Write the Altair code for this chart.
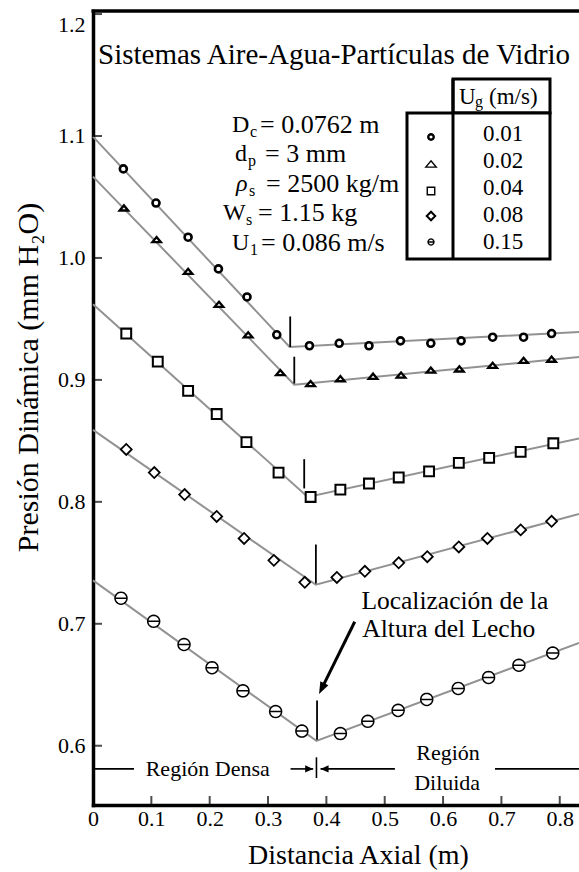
import math

import altair as alt
import pandas as pd

FONT = "Liberation Serif, Times New Roman, Times, serif"

# plot-area size and offset (pixels)
W, H = 486, 794
PAD_L, PAD_T = 93, 11

X_MAX = 0.833
Y_MIN, Y_MAX = 0.5514, 1.2025

# superficial gas velocity of each run (m/s)
ug_labels = ["0.01", "0.02", "0.04", "0.08", "0.15"]

# dynamic pressure readings along the column, one list per run
x_001 = [0.052, 0.108, 0.163, 0.215, 0.264, 0.315, 0.371, 0.422, 0.473, 0.527, 0.579, 0.631, 0.685, 0.738, 0.786]
y_001 = [1.073, 1.045, 1.017, 0.991, 0.968, 0.937, 0.928, 0.930, 0.928, 0.932, 0.930, 0.932, 0.935, 0.935, 0.938]

x_002 = [0.053, 0.109, 0.163, 0.216, 0.266, 0.321, 0.373, 0.424, 0.480, 0.528, 0.579, 0.628, 0.685, 0.738, 0.786]
y_002 = [1.041, 1.015, 0.989, 0.962, 0.937, 0.906, 0.897, 0.901, 0.903, 0.904, 0.908, 0.909, 0.912, 0.916, 0.917]

x_004 = [0.057, 0.111, 0.163, 0.212, 0.263, 0.318, 0.373, 0.424, 0.473, 0.524, 0.576, 0.627, 0.679, 0.733, 0.789]
y_004 = [0.938, 0.915, 0.891, 0.872, 0.849, 0.824, 0.804, 0.810, 0.815, 0.820, 0.825, 0.832, 0.836, 0.841, 0.848]

x_008 = [0.057, 0.105, 0.157, 0.212, 0.259, 0.310, 0.363, 0.418, 0.466, 0.524, 0.573, 0.627, 0.676, 0.733, 0.786]
y_008 = [0.843, 0.824, 0.806, 0.788, 0.770, 0.752, 0.734, 0.738, 0.743, 0.750, 0.755, 0.763, 0.770, 0.777, 0.784]

x_015 = [0.048, 0.104, 0.156, 0.204, 0.257, 0.313, 0.358, 0.424, 0.471, 0.523, 0.572, 0.626, 0.678, 0.730, 0.788]
y_015 = [0.721, 0.702, 0.683, 0.664, 0.645, 0.628, 0.612, 0.610, 0.620, 0.629, 0.638, 0.647, 0.656, 0.666, 0.676]

series_x = [x_001, x_002, x_004, x_008, x_015]
series_y = [y_001, y_002, y_004, y_008, y_015]

# two-segment fits: dense region down to the bed height, dilute region beyond
bed_x = [0.337, 0.345, 0.368, 0.382, 0.383]
fit_y_start = [1.0995, 1.0667, 0.962, 0.859, 0.7356]
fit_y_bed = [0.927, 0.896, 0.804, 0.732, 0.604]
fit_y_end = [0.9393, 0.9187, 0.852, 0.790, 0.6843]

# short vertical bars flagging the bed height of each run
flag_x = [0.338, 0.345, 0.362, 0.382, 0.384]
flag_lo = [0.927, 0.897, 0.811, 0.733, 0.605]
flag_hi = [0.952, 0.919, 0.835, 0.765, 0.637]

y_ticks = [0.6, 0.7, 0.8, 0.9, 1.0, 1.1, 1.2]
x_ticks = [0.0, 0.1, 0.2, 0.3, 0.4, 0.5, 0.6, 0.7, 0.8]

# ---------------------------------------------------------------- tables
points = pd.DataFrame(
    [{"x": xv, "y": yv, "ug": lab}
     for lab, xs, ys in zip(ug_labels, series_x, series_y)
     for xv, yv in zip(xs, ys)]
)

fit_rows = []
for lab, y0, xb, yb, y1 in zip(ug_labels, fit_y_start, bed_x, fit_y_bed, fit_y_end):
    for k, (xv, yv) in enumerate([(0.0, y0), (xb, yb), (X_MAX, y1)]):
        fit_rows.append({"x": xv, "y": yv, "ug": lab, "k": k})
fits = pd.DataFrame(fit_rows)

flags = pd.DataFrame({"x": flag_x, "y": flag_lo, "y2": flag_hi})

one = pd.DataFrame({"_": [0]})

# ---------------------------------------------------------------- symbols and scales
x_scale = alt.Scale(domain=[0, X_MAX], nice=False, zero=False)
y_scale = alt.Scale(domain=[Y_MIN, Y_MAX], nice=False, zero=False)

TRIANGLE = "M -1 0.6 L 0 -0.6 L 1 0.6 Z"
_ring = [(math.cos(2 * math.pi * i / 24), math.sin(2 * math.pi * i / 24)) for i in range(24)]
CIRCLE_BAR = "M " + " L ".join(f"{cx:.3f} {cy:.3f}" for cx, cy in _ring) + " Z M -1 0 L 1 0"
shape_scale = alt.Scale(domain=ug_labels, range=["circle", TRIANGLE, "square", "diamond", CIRCLE_BAR])

x_axis = alt.Axis(
    values=x_ticks, ticks=False, tickSize=0, grid=False,
    labelExpr="datum.value == 0 ? '0' : format(datum.value, '.1f')",
    labelFont=FONT, labelFontSize=22, labelColor="black", labelPadding=3, labelFlush=False,
    domainColor="black", domainWidth=3.5, domainCap="square",
    title="Distancia Axial (m)", titleFont=FONT, titleFontSize=28, titleFontWeight="normal",
    titleColor="black", titleX=265, titleY=50, titleAlign="center", titleBaseline="middle",
)
y_axis = alt.Axis(
    values=y_ticks, ticks=False, tickSize=0, grid=False, format=".1f",
    labelFont=FONT, labelFontSize=22, labelColor="black", labelPadding=8, labelFlush=5,
    domainColor="black", domainWidth=3.5, domainCap="square",
    title="Presión Dinámica (mm H₂O)", titleFont=FONT, titleFontSize=30, titleFontWeight="normal",
    titleColor="black", titleX=-65, titleY=366, titleAngle=270, titleAlign="center", titleBaseline="middle",
)

# ---------------------------------------------------------------- data layers
fit_lines = alt.Chart(fits).mark_line(color="#929292", strokeWidth=2).encode(
    x=alt.X("x:Q", scale=x_scale, axis=x_axis),
    y=alt.Y("y:Q", scale=y_scale, axis=y_axis),
    detail="ug:N",
    order="k:Q",
)

bed_flags = alt.Chart(flags).mark_rule(color="black", strokeWidth=1.8).encode(
    x=alt.X("x:Q", scale=x_scale), y=alt.Y("y:Q", scale=y_scale), y2="y2:Q"
)

symbols = alt.Chart(points).mark_point(
    fill="white", stroke="black", fillOpacity=1, strokeOpacity=1, opacity=1
).encode(
    x=alt.X("x:Q", scale=x_scale),
    y=alt.Y("y:Q", scale=y_scale),
    shape=alt.Shape("ug:N", scale=shape_scale, legend=None),
    size=alt.Size("ug:N", scale=alt.Scale(domain=ug_labels, range=[49, 144, 100, 110, 42]), legend=None),
    strokeWidth=alt.StrokeWidth("ug:N", scale=alt.Scale(domain=ug_labels, range=[2.6, 1.5, 1.5, 2.0, 1.5]), legend=None),
)

# inward tick marks
y_tick_marks = alt.Chart(pd.DataFrame({"v": y_ticks})).mark_tick(
    orient="horizontal", color="black", thickness=2, size=9
).encode(y=alt.Y("v:Q", scale=y_scale), x=alt.value(4.5))
x_tick_marks = alt.Chart(pd.DataFrame({"v": x_ticks[1:]})).mark_tick(
    orient="vertical", color="black", thickness=2, size=9
).encode(x=alt.X("v:Q", scale=x_scale), y=alt.value(H - 4.5))

top_border = alt.Chart(one).mark_rule(color="black", strokeWidth=3.5).encode(
    x=alt.value(-1.5), x2=alt.value(W), y=alt.value(0)
)


# ---------------------------------------------------------------- annotations
def label(text, px, py, size, align="left", style="normal"):
    """Text placed in page pixels (converted to plot-area pixels)."""
    return alt.Chart(one).mark_text(
        text=text, font=FONT, fontSize=size, fontStyle=style, align=align,
        baseline="middle", color="black",
    ).encode(x=alt.value(px - PAD_L), y=alt.value(py - PAD_T))


def data_label(text, xv, yv, size, align="center"):
    return alt.Chart(one).mark_text(
        text=text, font=FONT, fontSize=size, align=align, baseline="middle", color="black"
    ).encode(x=alt.X("x:Q", scale=x_scale), y=alt.Y("y:Q", scale=y_scale)).transform_calculate(
        x=str(xv), y=str(yv)
    )


layers = [fit_lines, bed_flags, symbols, y_tick_marks, x_tick_marks, top_border]

layers.append(label("Sistemas Aire-Agua-Partículas de Vidrio", 98, 55, 29))

# operating conditions block: head symbol, subscript, remainder
cond_rows = [
    ("D", "c", "= 0.0762 m", 232, 250, 260, 125, "normal"),
    ("d", "p", "= 3 mm", 235, 248, 265, 154, "normal"),
    ("ρ", "s", "= 2500 kg/m", 236, 249, 266, 184, "italic"),
    ("W", "s", "= 1.15 kg", 223, 246, 258, 213, "normal"),
    ("U", "1", "= 0.086 m/s", 232, 250, 261, 243, "normal"),
]
for head, sub, rest, hx, sx, rx, ry, st in cond_rows:
    layers.append(label(head, hx, ry, 24, style=st))
    layers.append(label(sub, sx, ry + 7, 16))
    layers.append(label(rest, rx, ry, 26))

# velocity key table
def box(x0, x1, y0, y1):
    return alt.Chart(one).mark_rect(fill="white", stroke="black", strokeWidth=3).encode(
        x=alt.value(x0 - PAD_L), x2=alt.value(x1 - PAD_L),
        y=alt.value(y0 - PAD_T), y2=alt.value(y1 - PAD_T),
    )

layers.append(box(453, 550, 79, 113))
layers.append(box(407, 550, 113, 259))
layers.append(
    alt.Chart(one).mark_rule(color="black", strokeWidth=3).encode(
        x=alt.value(453 - PAD_L), y=alt.value(79 - PAD_T), y2=alt.value(259 - PAD_T)
    )
)
layers.append(label("U", 459, 97, 23))
layers.append(label("g", 475, 102, 16))
layers.append(label("(m/s)", 489, 97, 23))

key_sizes = [30, 110, 56, 72, 36]
key_widths = [2.4, 1.4, 1.4, 2.0, 1.3]
key_sym_y = [137, 164, 191, 216, 242]
key_txt_y = [134, 161, 188, 215, 242]
for lab, sz, sw, sy, ty in zip(ug_labels, key_sizes, key_widths, key_sym_y, key_txt_y):
    layers.append(
        alt.Chart(pd.DataFrame({"ug": [lab]})).mark_point(
            fill="white", stroke="black", fillOpacity=1, opacity=1
        ).encode(
            x=alt.value(431 - PAD_L), y=alt.value(sy - PAD_T),
            shape=alt.Shape("ug:N", scale=shape_scale, legend=None),
            size=alt.value(sz), strokeWidth=alt.value(sw),
        )
    )
    layers.append(
        alt.Chart(pd.DataFrame({"ug": [lab]})).mark_text(
            font=FONT, fontSize=23, align="center", baseline="middle", color="black"
        ).encode(x=alt.value(503 - PAD_L), y=alt.value(ty - PAD_T), text="ug:N")
    )

# dense / dilute region markers along the bottom
Y_REG = 0.581
seg = pd.DataFrame({"x": [0.0, 0.3386, 0.390, 0.689], "x2": [0.0703, 0.3774, 0.5175, X_MAX], "y": [Y_REG] * 4})
layers.append(
    alt.Chart(seg).mark_rule(color="black", strokeWidth=1.6).encode(
        x=alt.X("x:Q", scale=x_scale), x2="x2:Q", y=alt.Y("y:Q", scale=y_scale)
    )
)
layers.append(
    alt.Chart(pd.DataFrame({"x": [0.383], "y": [0.5735], "y2": [0.5905]})).mark_rule(
        color="black", strokeWidth=1.6
    ).encode(x=alt.X("x:Q", scale=x_scale), y=alt.Y("y:Q", scale=y_scale), y2="y2:Q")
)
HEAD = "M 1 0 L -1 -0.9 L -1 0.9 Z"
heads = pd.DataFrame({"x": [0.3705, 0.3969], "y": [Y_REG, Y_REG], "a": [0, 180]})
layers.append(
    alt.Chart(heads).mark_point(shape=HEAD, filled=True, color="black", size=64, opacity=1).encode(
        x=alt.X("x:Q", scale=x_scale), y=alt.Y("y:Q", scale=y_scale), angle=alt.Angle("a:Q", scale=None)
    )
)
layers.append(data_label("Región Densa", 0.1966, Y_REG, 22))
layers.append(data_label("Región", 0.6085, 0.5938, 22))
layers.append(data_label("Diluida", 0.607, 0.5697, 22))

# pointer to the bed height of the lowest run
layers.append(data_label("Localización de la", 0.460, 0.7187, 25.5, align="left"))
layers.append(data_label("Altura del Lecho", 0.4617, 0.6955, 25.5, align="left"))
layers.append(
    alt.Chart(pd.DataFrame({"x": [0.4486], "y": [0.7017], "x2": [0.392], "y2": [0.6468]})).mark_rule(
        color="black", strokeWidth=3
    ).encode(x=alt.X("x:Q", scale=x_scale), y=alt.Y("y:Q", scale=y_scale), x2="x2:Q", y2="y2:Q")
)
layers.append(
    alt.Chart(pd.DataFrame({"x": [0.392], "y": [0.6468]})).mark_point(
        shape="M 0 -1 L -0.75 1 L 0.75 1 Z", filled=True, color="black", size=144, angle=206.3, opacity=1
    ).encode(x=alt.X("x:Q", scale=x_scale), y=alt.Y("y:Q", scale=y_scale))
)

chart = (
    alt.layer(*layers)
    .properties(
        width=W, height=H,
        autosize=alt.AutoSizeParams(type="none"),
        padding={"left": PAD_L, "top": PAD_T, "right": 0, "bottom": 872 - PAD_T - H},
    )
    .configure_view(strokeWidth=0)
    .configure(background="white")
)

chart.save("out.html", embed_options={"renderer": "svg", "actions": False})
